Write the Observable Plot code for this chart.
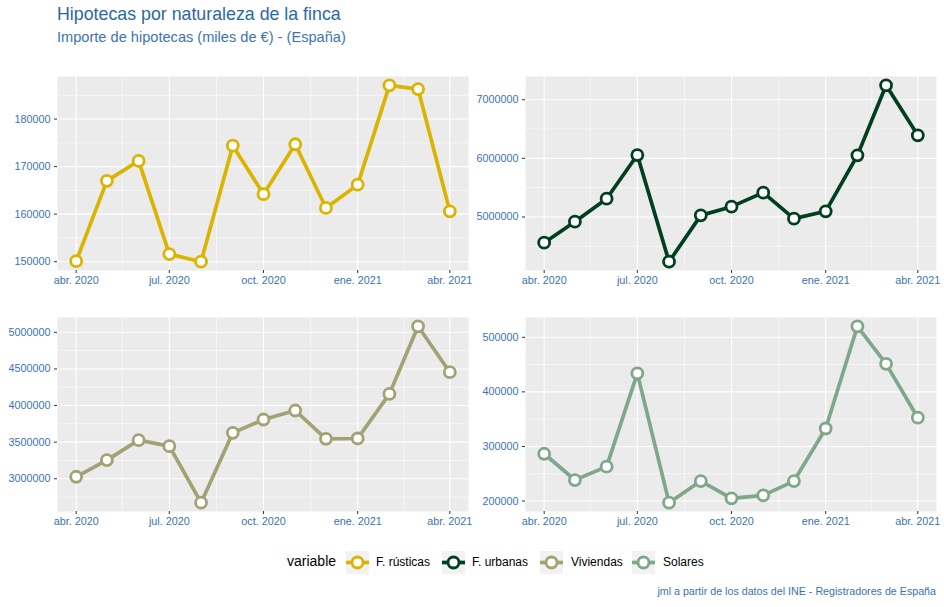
<!DOCTYPE html>
<html>
<head>
<meta charset="utf-8">
<script src="https://cdn.jsdelivr.net/npm/d3@7"></script>
<script src="https://cdn.jsdelivr.net/npm/@observablehq/plot@0.6"></script>
<style>
  html, body { margin: 0; padding: 0; background: #fff; }
  #root { position: relative; width: 944px; height: 607px; font-family: "Liberation Sans", Arial, sans-serif; overflow: hidden; }
  .abs { position: absolute; white-space: nowrap; }
  svg { overflow: visible; }
</style>
</head>
<body>
<div id="root"></div>
<script>
// ---- data ----
const months = ["2020-04-01","2020-05-01","2020-06-01","2020-07-01","2020-08-01","2020-09-01","2020-10-01","2020-11-01","2020-12-01","2021-01-01","2021-02-01","2021-03-01","2021-04-01"];
const rusticas  = [150100, 167000, 171200, 151600, 150000, 174400, 164200, 174700, 161300, 166200, 187100, 186300, 160600];
const urbanas   = [4562000, 4920000, 5312000, 6056000, 4238000, 5028000, 5176000, 5415000, 4972000, 5097000, 6051000, 7245000, 6392000];
const viviendas = [3027000, 3255000, 3527000, 3445000, 2673000, 3627000, 3809000, 3932000, 3545000, 3550000, 4159000, 5082000, 4455000];
const solares   = [286600, 238500, 263000, 434000, 197000, 236600, 204900, 210400, 236600, 332900, 520100, 451300, 352700];

const seriesNames = ["F. rústicas", "F. urbanas", "Viviendas", "Solares"];
const seriesColors = ["#DAB400", "#003F1F", "#A2A274", "#7FA88A"];

const xTickDates = ["2020-04-01","2020-07-01","2020-10-01","2021-01-01","2021-04-01"];
const xTickLabels = ["abr. 2020","jul. 2020","oct. 2020","ene. 2021","abr. 2021"];
const xMinorDates = ["2020-05-16","2020-08-16","2020-11-16","2021-02-15"];

const yTicks = [
  [150000, 160000, 170000, 180000],
  [5000000, 6000000, 7000000],
  [3000000, 3500000, 4000000, 4500000, 5000000],
  [200000, 300000, 400000, 500000]
];
const yMinor = [
  [155000, 165000, 175000, 185000],
  [4500000, 5500000, 6500000],
  [2750000, 3250000, 3750000, 4250000, 4750000],
  [250000, 350000, 450000]
];

const title = "Hipotecas por naturaleza de la finca";
const subtitle = "Importe de hipotecas (miles de €) - (España)";
const caption = "jml a partir de los datos del INE - Registradores de España";

// ---- build ----
const parse = d3.utcParse("%Y-%m-%d");
const dates = months.map(parse);
const allSeries = [rusticas, urbanas, viviendas, solares];
const textBlue = "#3A72B2";

function expand(ext, f = 0.05) {
  const r = ext[1] - ext[0];
  return [ext[0] - r * f, ext[1] + r * f];
}
const xDomain = expand([dates[0], dates[dates.length - 1]].map(Number)).map(v => new Date(v));

const root = document.getElementById("root");
function addText(txt, css) {
  const d = document.createElement("div");
  d.className = "abs";
  d.textContent = txt;
  Object.assign(d.style, css);
  root.appendChild(d);
  return d;
}

addText(title, {left: "57px", top: "4px", fontSize: "17.8px", color: "#2C67A2"});
addText(subtitle, {left: "57px", top: "29px", fontSize: "14.6px", color: "#3C74B2"});

const panels = [
  {left: 0,   top: 70,    width: 470, ml: 57, mr: 2},
  {left: 470, top: 70,    width: 474, ml: 55, mr: 8},
  {left: 0,   top: 310.5, width: 470, ml: 57, mr: 2},
  {left: 470, top: 310.5, width: 474, ml: 55, mr: 8}
];

panels.forEach((p, i) => {
  const vals = allSeries[i];
  const data = dates.map((d, j) => ({date: d, value: vals[j]}));
  const yDomain = expand(d3.extent(vals));
  const color = seriesColors[i];
  const chart = Plot.plot({
    width: p.width,
    height: 240,
    marginLeft: p.ml,
    marginRight: p.mr,
    marginTop: 6,
    marginBottom: 40,
    style: {fontFamily: "'Liberation Sans', Arial, sans-serif", fontSize: "10.8px", background: "transparent", overflow: "visible"},
    x: {type: "utc", domain: xDomain, axis: null},
    y: {domain: yDomain, axis: null},
    marks: [
      Plot.frame({fill: "#EBEBEB", stroke: null}),
      Plot.ruleY(yMinor[i].filter(v => v >= yDomain[0] && v <= yDomain[1]), {stroke: "#fff", strokeWidth: 0.55}),
      Plot.ruleX(xMinorDates.map(parse), {stroke: "#fff", strokeWidth: 0.55}),
      Plot.ruleY(yTicks[i], {stroke: "#fff", strokeWidth: 1.1}),
      Plot.ruleX(xTickDates.map(parse), {stroke: "#fff", strokeWidth: 1.1}),
      Plot.axisX({
        ticks: xTickDates.map(parse),
        tickFormat: d => xTickLabels[xTickDates.findIndex(t => +parse(t) === +d)],
        tickSize: 3, tickPadding: 3, stroke: "#333", fill: textBlue, label: null
      }),
      Plot.axisY({
        ticks: yTicks[i],
        tickFormat: d3.format("d"),
        tickSize: 3, tickPadding: 4, stroke: "#333", fill: textBlue, label: null
      }),
      Plot.line(data, {x: "date", y: "value", stroke: color, strokeWidth: 3.7}),
      Plot.dot(data, {x: "date", y: "value", r: 5.5, fill: "#fff", stroke: color, strokeWidth: 2.8})
    ]
  });
  chart.style.position = "absolute";
  chart.style.left = p.left + "px";
  chart.style.top = p.top + "px";
  root.appendChild(chart);
});

// ---- legend ----
addText("variable", {left: "287px", top: "553px", fontSize: "14px", color: "#000"});
const keyX = [345.5, 441.5, 539.5, 631.5];
const labelX = [376, 472, 571, 663];
seriesNames.forEach((name, i) => {
  const ns = "http://www.w3.org/2000/svg";
  const svg = document.createElementNS(ns, "svg");
  svg.setAttribute("width", 23);
  svg.setAttribute("height", 23);
  svg.style.position = "absolute";
  svg.style.left = keyX[i] + "px";
  svg.style.top = "550.5px";
  svg.innerHTML = `<rect width="23" height="23" fill="#F2F2F2"/>
    <line x1="0" x2="23" y1="11.5" y2="11.5" stroke="${seriesColors[i]}" stroke-width="3.7"/>
    <circle cx="11.5" cy="11.5" r="5.5" fill="#fff" stroke="${seriesColors[i]}" stroke-width="2.8"/>`;
  root.appendChild(svg);
  addText(name, {left: labelX[i] + "px", top: "555px", fontSize: "12px", color: "#000"});
});

addText(caption, {right: "8px", top: "585px", fontSize: "10.7px", color: textBlue});
</script>
</body>
</html>
